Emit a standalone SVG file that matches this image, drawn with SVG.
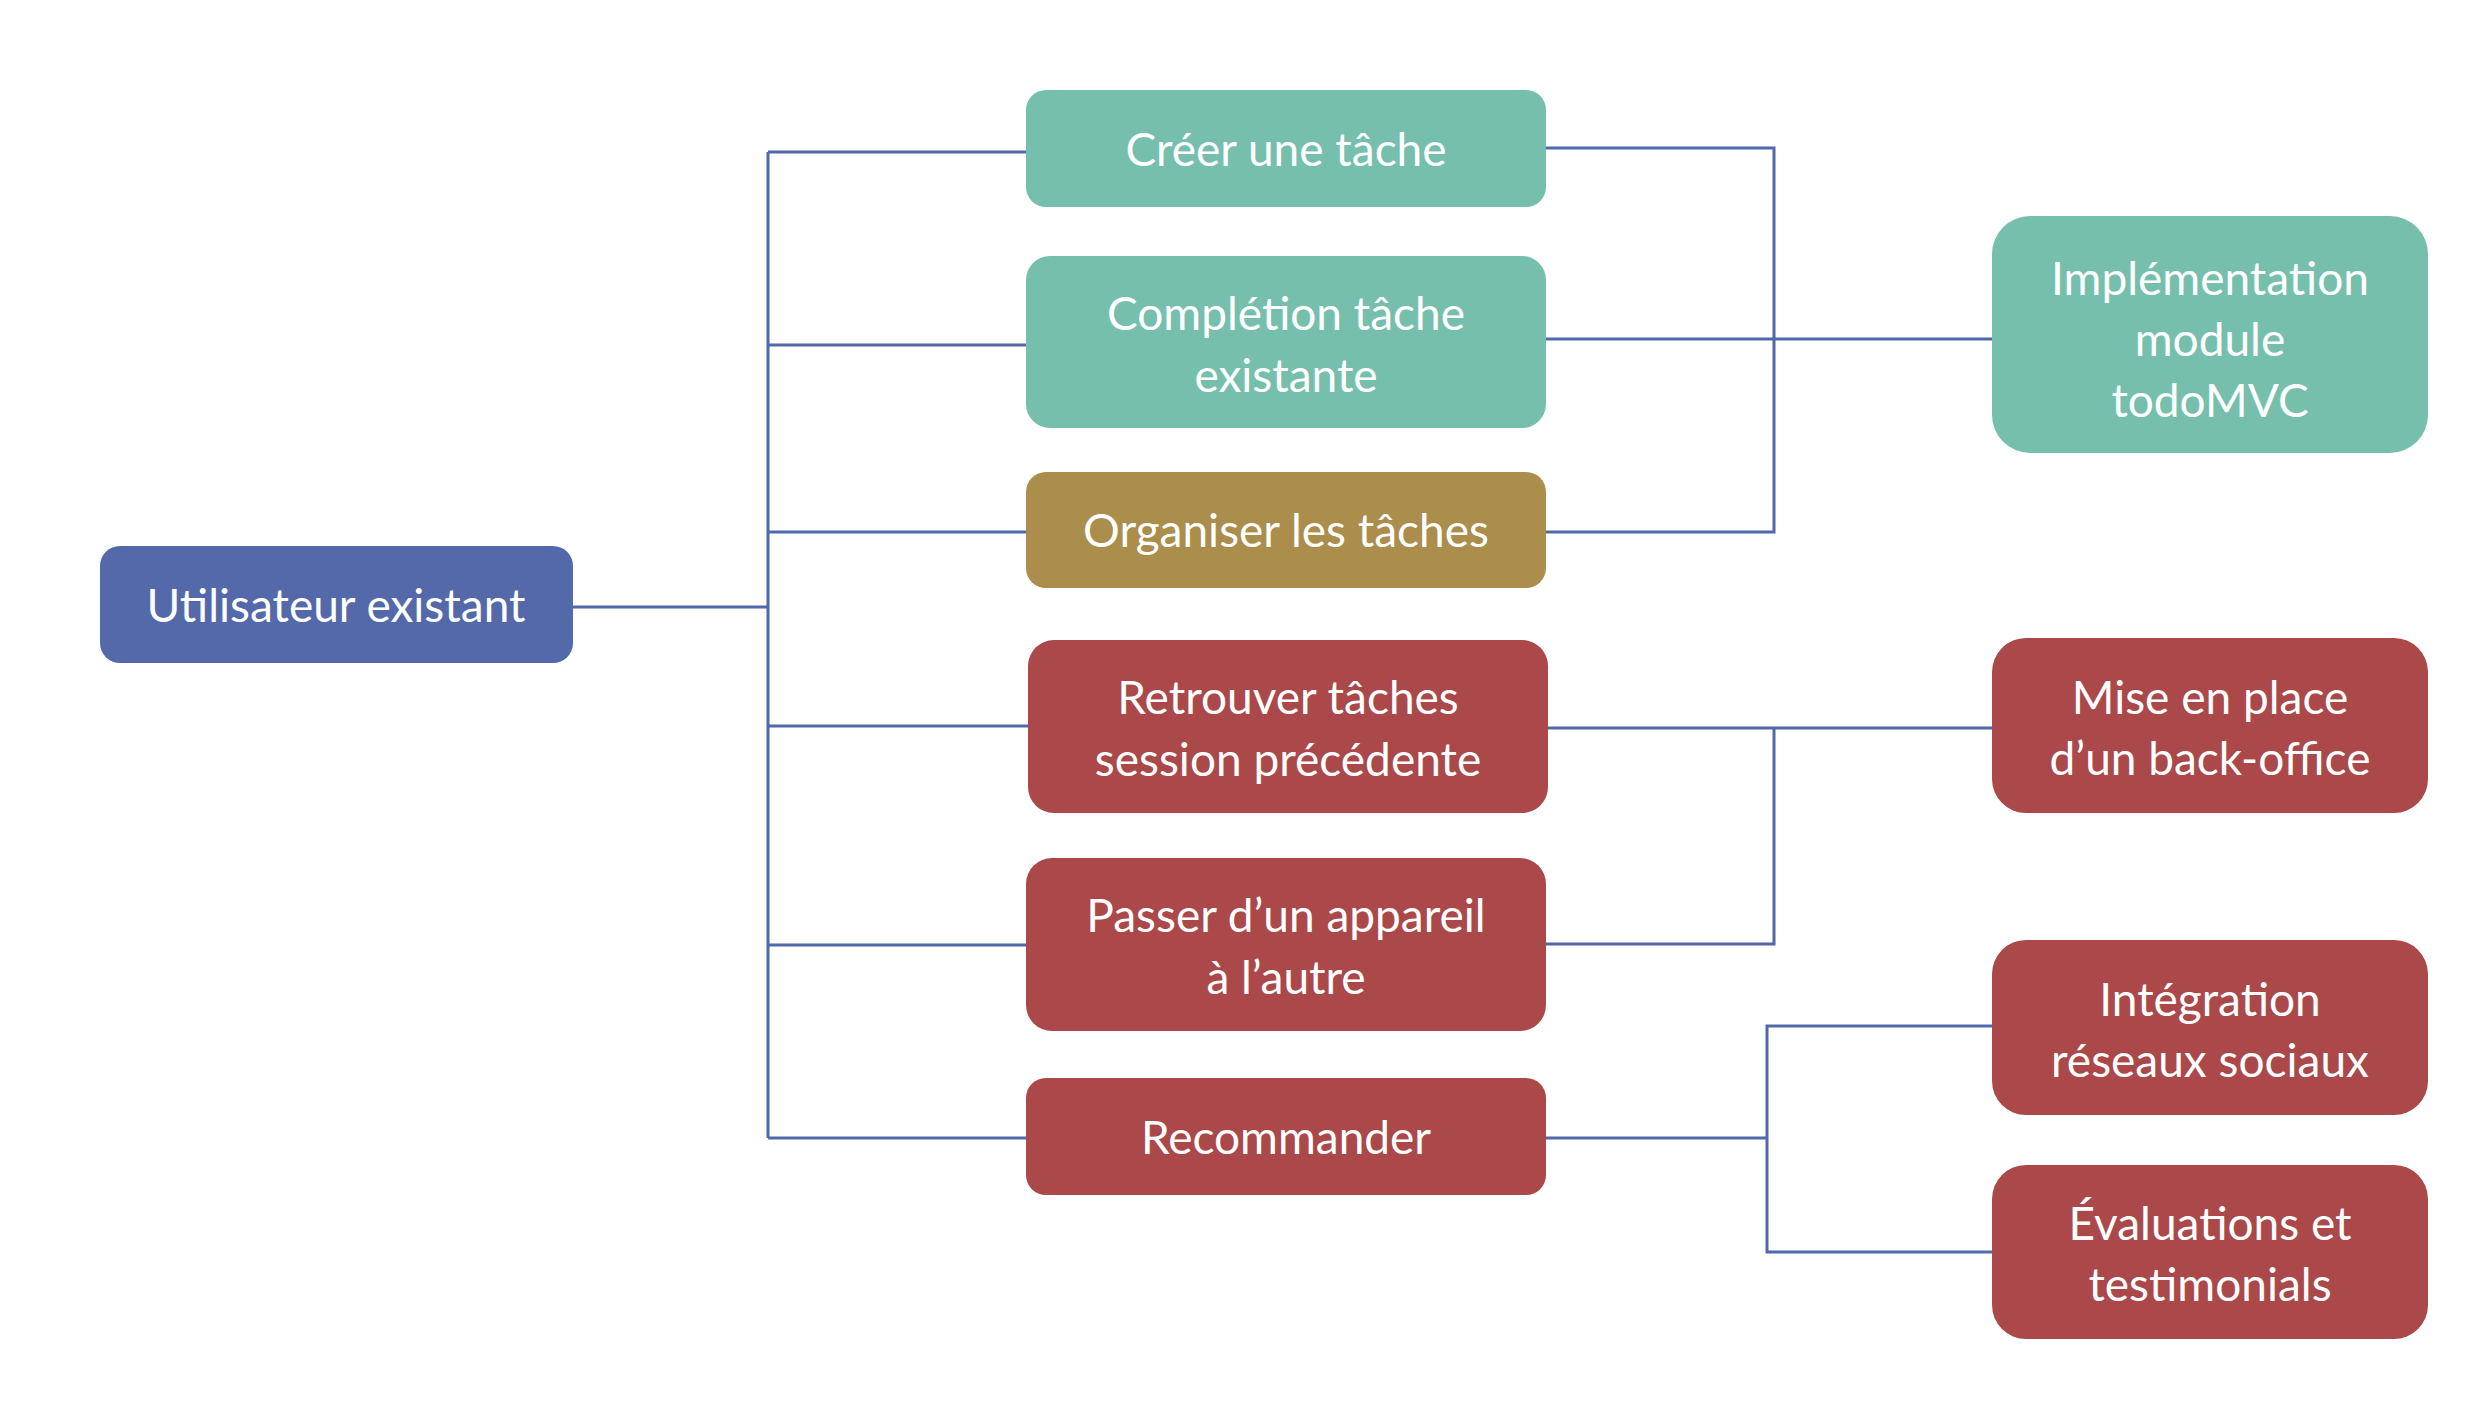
<svg xmlns="http://www.w3.org/2000/svg" width="2486" height="1424" viewBox="0 0 2486 1424">
<style>
.bl{fill:#5369AA}.te{fill:#77BFAD}.go{fill:#AB8D4C}.re{fill:#AA484A}
text{font-family:Lato,"Open Sans","Liberation Sans",sans-serif;font-size:46px;fill:#FFFFFF;text-anchor:middle}
.c path{fill:none;stroke:#5168AC;stroke-width:3}
</style>
<rect width="2486" height="1424" fill="#FFFFFF"/>
<g class="c" id="connectors">
<path d="M768 152V1138"/>
<path d="M573 607H768"/>
<path d="M768 152H1026"/>
<path d="M768 345H1026"/>
<path d="M768 532H1026"/>
<path d="M768 726H1028"/>
<path d="M768 945H1026"/>
<path d="M768 1138H1026"/>
<path d="M1546 148H1774V532H1546"/>
<path d="M1546 339H1992"/>
<path d="M1548 728H1992"/>
<path d="M1774 728V944H1546"/>
<path d="M1546 1138H1767"/>
<path d="M1992 1026H1767V1252H1992"/>
</g>
<g id="utilisateur"><rect class="bl" x="100" y="546" width="473" height="117" rx="20"/><text x="336" y="622">Utilisateur existant</text></g>
<g id="creer"><rect class="te" x="1026" y="90" width="520" height="117" rx="20"/><text x="1286" y="166">Créer une tâche</text></g>
<g id="completion"><rect class="te" x="1026" y="256" width="520" height="172" rx="24"/><text x="1286" y="330">Complétion tâche</text><text x="1286" y="392">existante</text></g>
<g id="organiser"><rect class="go" x="1026" y="472" width="520" height="116" rx="20"/><text x="1286" y="547">Organiser les tâches</text></g>
<g id="retrouver"><rect class="re" x="1028" y="640" width="520" height="173" rx="26"/><text x="1288" y="714">Retrouver tâches</text><text x="1288" y="776">session précédente</text></g>
<g id="passer"><rect class="re" x="1026" y="858" width="520" height="173" rx="26"/><text x="1286" y="932">Passer d’un appareil</text><text x="1286" y="994">à l’autre</text></g>
<g id="recommander"><rect class="re" x="1026" y="1078" width="520" height="117" rx="20"/><text x="1286" y="1154">Recommander</text></g>
<g id="implementation"><rect class="te" x="1992" y="216" width="436" height="237" rx="38"/><text x="2210" y="295">Implémentation</text><text x="2210" y="356">module</text><text x="2210" y="417">todoMVC</text></g>
<g id="backoffice"><rect class="re" x="1992" y="638" width="436" height="175" rx="34"/><text x="2210" y="714">Mise en place</text><text x="2210" y="775">d’un back-office</text></g>
<g id="reseaux"><rect class="re" x="1992" y="940" width="436" height="175" rx="34"/><text x="2210" y="1016">Intégration</text><text x="2210" y="1077">réseaux sociaux</text></g>
<g id="evaluations"><rect class="re" x="1992" y="1165" width="436" height="174" rx="34"/><text x="2210" y="1240">Évaluations et</text><text x="2210" y="1301">testimonials</text></g>
</svg>
